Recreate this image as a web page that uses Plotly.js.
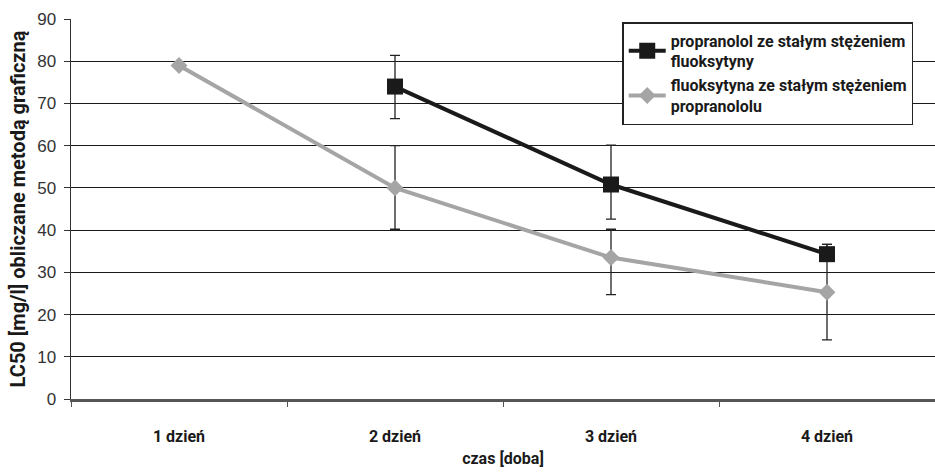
<!DOCTYPE html>
<html>
<head>
<meta charset="utf-8">
<script src="https://cdn.plot.ly/plotly-3.0.1.min.js"></script>
<style>html,body{margin:0;padding:0;background:#fff;}#chart{width:935px;height:473px;}</style>
</head>
<body>
<div id="chart"></div>
<script>
const categories = ['1 dzień', '2 dzień', '3 dzień', '4 dzień'];
const yTicks = [0, 10, 20, 30, 40, 50, 60, 70, 80, 90];

const propranololName = 'propranolol ze stałym stężeniem<br>fluoksytyny';
const propranololX = ['2 dzień', '3 dzień', '4 dzień'];
const propranololY = [74.0, 50.8, 34.3];
const propranololErrPlus = [7.4, 9.3, 2.3];
const propranololErrMinus = [7.6, 8.2, 1.5];

const fluoksytynaName = 'fluoksytyna ze stałym stężeniem<br>propranololu';
const fluoksytynaX = ['1 dzień', '2 dzień', '3 dzień', '4 dzień'];
const fluoksytynaY = [79.0, 50.0, 33.5, 25.3];
const fluoksytynaErrPlus = [0, 10.0, 6.7, 11.3];
const fluoksytynaErrMinus = [0, 9.8, 8.8, 11.3];

const boldFont = 'Roboto, "Open Sans", sans-serif';

const traces = [
  {
    type: 'scatter', mode: 'lines+markers',
    x: fluoksytynaX, y: fluoksytynaY, name: fluoksytynaName,
    legendrank: 2,
    line: {color: '#a5a5a5', width: 4},
    marker: {symbol: 'diamond', size: 13, color: '#a5a5a5'},
    error_y: {type: 'data', symmetric: false, array: fluoksytynaErrPlus, arrayminus: fluoksytynaErrMinus,
              visible: true, color: '#222', thickness: 1.3, width: 5}
  },
  {
    type: 'scatter', mode: 'lines+markers',
    x: propranololX, y: propranololY, name: propranololName,
    legendrank: 1,
    line: {color: '#1a1a1a', width: 4},
    marker: {symbol: 'square', size: 16, color: '#1a1a1a'},
    error_y: {type: 'data', symmetric: false, array: propranololErrPlus, arrayminus: propranololErrMinus,
              visible: true, color: '#222', thickness: 1.3, width: 5}
  }
];

const layout = {
  width: 935, height: 473,
  margin: {l: 71, r: 0, t: 19, b: 74},
  paper_bgcolor: '#fff', plot_bgcolor: '#fff',
  showlegend: true,
  legend: {
    x: 0.638, y: 0.992, xanchor: 'left', yanchor: 'top',
    bgcolor: '#fff', bordercolor: '#222', borderwidth: 1.5,
    font: {family: boldFont, size: 16, color: '#1a1a1a', weight: 'bold'},
    itemwidth: 37, tracegroupgap: 4
  },
  xaxis: {
    type: 'category', categoryorder: 'array', categoryarray: categories,
    range: [-0.5, 3.5],
    tickson: 'boundaries', ticks: 'outside', ticklen: 5, tickcolor: '#555', tickwidth: 1,
    showline: true, linecolor: '#555', linewidth: 2.5,
    showgrid: false, zeroline: false,
    tickfont: {family: boldFont, size: 16, color: '#1a1a1a', weight: 'bold'},
    ticklabelstandoff: 21,
    title: {text: 'czas [doba]', font: {family: boldFont, size: 16, color: '#1a1a1a', weight: 'bold'}, standoff: 8}
  },
  yaxis: {
    range: [0, 90], tickmode: 'array', tickvals: yTicks, ticktext: yTicks.map(String),
    showgrid: true, gridcolor: '#1a1a1a', gridwidth: 1,
    showline: true, linecolor: '#333', linewidth: 1.5,
    ticks: 'outside', ticklen: 6, tickcolor: '#333',
    zeroline: false,
    tickfont: {family: '"Liberation Sans", Arial, sans-serif', size: 17, color: '#333'},
    ticklabelstandoff: 4,
    title: {text: 'LC50 [mg/l] obliczane metodą graficzną', font: {family: boldFont, size: 20, color: '#1a1a1a', weight: 'bold'}, standoff: 6}
  }
};

Plotly.newPlot('chart', traces, layout, {displayModeBar: false, staticPlot: true});
</script>
</body>
</html>
